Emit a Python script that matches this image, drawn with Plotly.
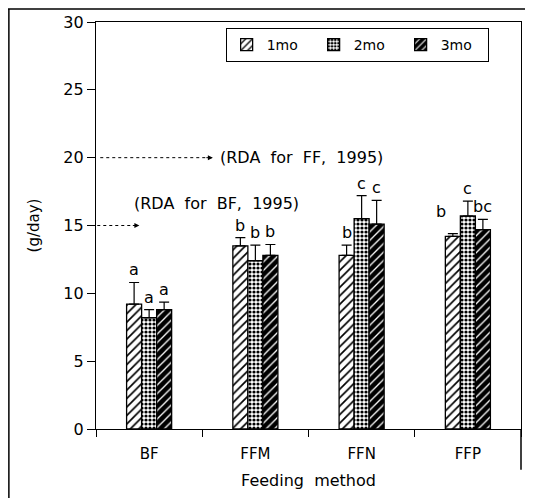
import plotly.graph_objects as go

categories = ["BF", "FFM", "FFN", "FFP"]
series_names = ["1mo", "2mo", "3mo"]
mo1 = [9.2, 13.5, 12.8, 14.2]
mo2 = [8.2, 12.4, 15.5, 15.7]
mo3 = [8.8, 12.8, 15.1, 14.7]
err1 = [1.6, 0.6, 0.75, 0.2]
err2 = [0.6, 1.15, 1.7, 1.1]
err3 = [0.55, 0.8, 1.75, 0.75]
letters1 = ["a", "b", "b", "b"]
letters2 = ["a", "b", "c", "c"]
letters3 = ["a", "b", "c", "bc"]
y_ticks = [0, 5, 10, 15, 20, 25, 30]
rda_ff = 20
rda_bf = 15

FONT = "DejaVu Sans"
values = [mo1, mo2, mo3]
errs = [err1, err2, err3]
letters = [letters1, letters2, letters3]
patterns = [
    dict(shape="/", fgcolor="black", bgcolor="white", size=6, solidity=0.28, fillmode="replace"),
    dict(shape=".", fgcolor="black", bgcolor="white", size=4, solidity=0.5, fillmode="replace"),
    dict(shape="/", fgcolor="white", bgcolor="black", size=6, solidity=0.22, fillmode="replace"),
]
colors = ["white", "white", "black"]

fig = go.Figure()
for i in range(3):
    fig.add_trace(go.Bar(
        x=categories, y=values[i], name=series_names[i],
        marker=dict(color=colors[i], pattern=patterns[i], line=dict(color="black", width=1.3)),
        error_y=dict(type="data", symmetric=False, array=errs[i], arrayminus=[0] * 4,
                     color="black", thickness=1.2, width=5),
    ))

# significance letters
bar_px = 15
for i in range(3):
    for j, c in enumerate(categories):
        xs = (i - 1) * bar_px
        ys = 1
        if c == "FFP" and i == 0:
            xs -= 12
            ys += 10
        fig.add_annotation(x=c, y=values[i][j] + errs[i][j], text=letters[i][j],
                           showarrow=False, xshift=xs, yshift=ys, yanchor="bottom",
                           font=dict(family=FONT, size=16, color="black"))

# RDA dashed arrows
fig.add_shape(type="line", xref="paper", yref="y", x0=0.01, x1=0.27, y0=rda_ff, y1=rda_ff,
              line=dict(color="black", width=1, dash="dot"))
fig.add_annotation(xref="paper", yref="y", x=0.275, y=rda_ff, ax=-8, ay=0, text="",
                   showarrow=True, arrowhead=2, arrowsize=1, arrowwidth=1, arrowcolor="black")
fig.add_annotation(xref="paper", yref="y", x=0.287, y=rda_ff, text="(RDA  for  FF,  1995)",
                   showarrow=False, xanchor="left", yanchor="middle",
                   font=dict(family=FONT, size=16, color="black"))
fig.add_shape(type="line", xref="paper", yref="y", x0=0.003, x1=0.095, y0=rda_bf, y1=rda_bf,
              line=dict(color="black", width=1, dash="dot"))
fig.add_annotation(xref="paper", yref="y", x=0.102, y=rda_bf, ax=-8, ay=0, text="",
                   showarrow=True, arrowhead=2, arrowsize=1, arrowwidth=1, arrowcolor="black")
fig.add_annotation(xref="paper", yref="y", x=0.085, y=rda_bf, yshift=22, text="(RDA  for  BF,  1995)",
                   showarrow=False, xanchor="left", yanchor="middle",
                   font=dict(family=FONT, size=16, color="black"))

# outer frame (scan border)
frame = dict(color="black", width=1.5)
fig.add_shape(type="line", xref="paper", yref="paper", x0=-0.205, x1=-0.205, y0=1.032, y1=-0.2, line=frame)
fig.add_shape(type="line", xref="paper", yref="paper", x0=-0.226, x1=1.03, y0=1.032, y1=1.032, line=frame)
fig.add_shape(type="line", xref="paper", yref="paper", x0=1.0, x1=1.0, y0=0, y1=-0.10, line=frame)

# the page adds an 8px body margin, so the figure is 8px smaller and margins are shifted
fig.update_layout(
    width=525, height=490,
    margin=dict(l=88, r=12, t=14, b=69),
    paper_bgcolor="white", plot_bgcolor="white",
    barmode="group", bargap=0.576, bargroupgap=0,
    font=dict(family=FONT, size=15, color="black"),
    showlegend=True,
    legend=dict(orientation="h", x=0.305, y=0.985, xanchor="left", yanchor="top",
                bordercolor="black", borderwidth=1, bgcolor="white",
                entrywidth=42, entrywidthmode="pixels", itemwidth=30,
                font=dict(family=FONT, size=14, color="black")),
    xaxis=dict(title=dict(text="Feeding  method", font=dict(size=16), standoff=12),
               automargin=False,
               showline=True, linecolor="black", linewidth=1.3, mirror=True,
               ticks="outside", tickson="boundaries", ticklen=7, tickcolor="black",
               ticklabelstandoff=11, tickfont=dict(size=15)),
    yaxis=dict(title=dict(text="(g/day)", font=dict(size=15), standoff=20),
               automargin=False,
               range=[0, 30], tickvals=y_ticks, showline=True, linecolor="black",
               linewidth=1.3, mirror=True, ticks="outside", ticklen=8, tickcolor="black",
               showgrid=False, zeroline=False, tickfont=dict(size=16)),
)

fig.write_html("out.html")
